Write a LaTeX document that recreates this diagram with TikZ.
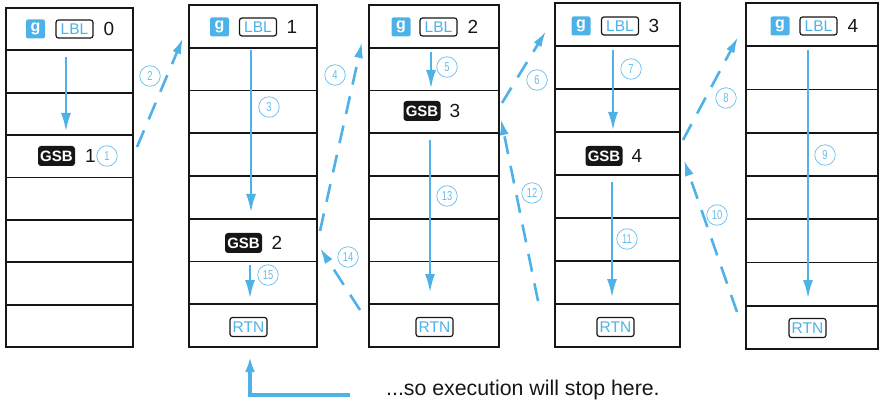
\documentclass[tikz,border=0pt]{standalone}
\usepackage{fontspec}
\setmainfont{Liberation Sans}
\newfontfamily\condfont[FakeStretch=0.72]{Liberation Sans}
\usetikzlibrary{arrows.meta}
\definecolor{hpblue}{RGB}{78,178,232}
\definecolor{ink}{RGB}{22,22,22}
\begin{document}
\begin{tikzpicture}[x=1pt,y=-1pt,
  cell/.style={draw=ink, line width=1.8pt, inner sep=0pt, outer sep=0pt},
  colframe/.style={draw=ink, line width=2.4pt},
  gkey/.style={fill=hpblue, rounded corners=2pt, text=white, font=\fontsize{16}{16}\selectfont\bfseries, minimum width=19pt, minimum height=19pt, inner sep=0pt},
  lblkey/.style={draw=ink, line width=1.2pt, rounded corners=2.5pt, text=hpblue, font=\fontsize{15.5}{15.5}\selectfont, minimum width=37pt, minimum height=18pt, inner sep=0pt},
  gsbkey/.style={fill=ink, rounded corners=3pt, text=white, font=\fontsize{15}{15}\selectfont\bfseries, minimum width=37pt, minimum height=20pt, inner sep=0pt},
  rtnkey/.style={draw=ink, line width=1.2pt, rounded corners=2.5pt, text=hpblue, font=\fontsize{15.5}{15.5}\selectfont, minimum width=37pt, minimum height=19pt, inner sep=0pt},
  digit/.style={font=\fontsize{19}{19}\selectfont, text=ink, inner sep=0pt},
  circnum/.style={circle, draw=hpblue!85, line width=0.7pt, minimum size=20.5pt, inner sep=0pt, text=hpblue!85, font=\condfont\fontsize{13}{13}\selectfont},
  flow/.style={draw=hpblue, line width=2.7pt, -{Latex[length=19pt,width=10pt]}},
  jump/.style={draw=hpblue, line width=2.6pt, dash pattern=on 18pt off 12pt, -{Latex[length=16pt,width=9pt]}},
  note/.style={font=\fontsize{21.3}{21.3}\selectfont, text=ink, inner sep=0pt, anchor=west}
]
\useasboundingbox (0,0) rectangle (880,403);

% program columns
\foreach \c/\xl/\w/\t/\b in {1/6/127/8/347, 2/189/128/5/347, 3/369/130/5/347, 4/555/125/3/347, 5/746/132/3/349}{
  \pgfmathsetmacro\h{(\b-\t)/8}
  \foreach \j in {1,...,8}{
    \node[cell, minimum width=\w pt, minimum height=\h pt] (c\c-\j) at ({\xl+\w/2},{\t+(\j-0.5)*\h}) {};
  }
  \draw[colframe] (c\c-1.north west) rectangle (c\c-8.south east);
}

% column 1
\node[gkey] (g0) at (35.5,29) {g};
\node[lblkey] (l0) at (74.5,29) {LBL};
\node[digit] (d0) at (109,29) {0};
\node[gsbkey] (s1) at (56.5,156) {GSB};
\node[digit] (d1) at (90.5,156) {1};
\node[circnum] (n1) at (107,156) {1};

% column 2
\node[gkey] (g1) at (219.5,27) {g};
\node[lblkey] (l1) at (258,27) {LBL};
\node[digit] (dl1) at (292,27) {1};
\node[gsbkey] (s2) at (243.5,243) {GSB};
\node[digit] (d2) at (277,243) {2};
\node[rtnkey] (r1) at (248.5,327) {RTN};

% column 3
\node[gkey] (g2) at (401,27) {g};
\node[lblkey] (l2) at (438.5,27) {LBL};
\node[digit] (dl2) at (473,27) {2};
\node[gsbkey] (s3) at (422,111) {GSB};
\node[digit] (d3) at (455,111) {3};
\node[rtnkey] (r2) at (434.5,327) {RTN};

% column 4
\node[gkey] (g3) at (581,26) {g};
\node[lblkey] (l3) at (620,26) {LBL};
\node[digit] (dl3) at (654,26) {3};
\node[gsbkey] (s4) at (604,156) {GSB};
\node[digit] (d4) at (637,156) {4};
\node[rtnkey] (r3) at (615.5,327) {RTN};

% column 5
\node[gkey] (g4) at (780,26) {g};
\node[lblkey] (l4) at (818.5,26) {LBL};
\node[digit] (dl4) at (853,26) {4};
\node[rtnkey] (r4) at (807.5,328) {RTN};

% step numbers
\node[circnum] (n2) at (150,76) {2};
\node[circnum] (n3) at (269,107) {3};
\node[circnum] (n4) at (335,75) {4};
\node[circnum] (n5) at (447,67) {5};
\node[circnum] (n6) at (537,80) {6};
\node[circnum] (n7) at (631,69) {7};
\node[circnum] (n8) at (726,98) {8};
\node[circnum] (n9) at (825,155) {9};
\node[circnum] (n10) at (717,215) {10};
\node[circnum] (n11) at (627,239) {11};
\node[circnum] (n12) at (532,193) {12};
\node[circnum] (n13) at (447,196) {13};
\node[circnum] (n14) at (348,257) {14};
\node[circnum] (n15) at (268,275) {15};

% arrow end points
\coordinate (a1s) at (66,57);   \coordinate (a1e) at (66,132);
\coordinate (a3s) at (251,50);  \coordinate (a3e) at (251,213);
\coordinate (a15s) at (250,265); \coordinate (a15e) at (250,299);
\coordinate (a5s) at (431,52);  \coordinate (a5e) at (431,89);
\coordinate (a13s) at (430,140); \coordinate (a13e) at (430,293);
\coordinate (a7s) at (613,50);  \coordinate (a7e) at (613,131);
\coordinate (a11s) at (612,182); \coordinate (a11e) at (612,298);
\coordinate (a9s) at (808,50);  \coordinate (a9e) at (808,299);

\coordinate (j2s) at (137,147);  \coordinate (j2e) at (183,38);
\coordinate (j4s) at (320,231);  \coordinate (j4e) at (362,42);
\coordinate (j6s) at (502,103);  \coordinate (j6e) at (546,31);
\coordinate (j8s) at (683,140);  \coordinate (j8e) at (738,37);
\coordinate (j10s) at (737,312); \coordinate (j10e) at (684,160);
\coordinate (j12s) at (538,301); \coordinate (j12e) at (501,119);
\coordinate (j14s) at (360,310); \coordinate (j14e) at (320,248);

% straight-line execution
\draw[flow] (a1s) -- (a1e);
\draw[flow] (a3s) -- (a3e);
\draw[flow] (a15s) -- (a15e);
\draw[flow] (a5s) -- (a5e);
\draw[flow] (a13s) -- (a13e);
\draw[flow] (a7s) -- (a7e);
\draw[flow] (a11s) -- (a11e);
\draw[flow] (a9s) -- (a9e);

% jumps
\draw[jump] (j2s) -- (j2e);
\draw[jump] (j4s) -- (j4e);
\draw[jump] (j6s) -- (j6e);
\draw[jump] (j8s) -- (j8e);
\draw[jump] (j10s) -- (j10e);
\draw[jump] (j12s) -- (j12e);
\draw[jump] (j14s) -- (j14e);

% note
\node[note] (stop) at (386,390) {...so execution will stop here.};
\coordinate (b1) at (350,395);
\coordinate (b2) at (250,395);
\coordinate (b3) at (250,357);
\draw[draw=hpblue, line width=3.2pt, -{Latex[length=15pt,width=10pt]}] (b1) -- (b2) -- (b3);
\end{tikzpicture}
\end{document}
